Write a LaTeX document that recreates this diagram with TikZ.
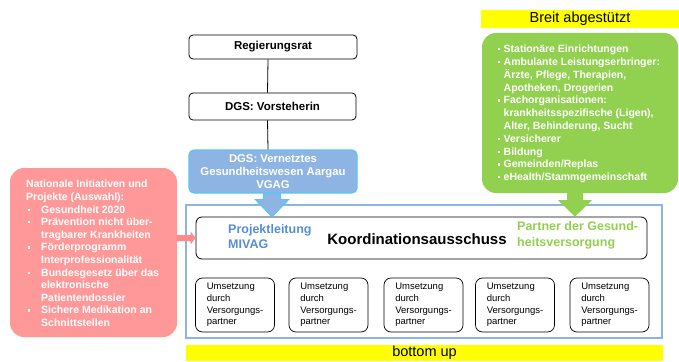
\documentclass[tikz,border=0pt]{standalone}
\usepackage{fontspec}
\setmainfont{Liberation Sans}
\usetikzlibrary{calc}
\definecolor{gfill}{HTML}{92D050}
\definecolor{rfill}{HTML}{FF9999}
\definecolor{rarrow}{HTML}{FF8A8A}
\definecolor{bfill}{HTML}{8EB4E3}
\definecolor{bline}{HTML}{5BC4F2}
\definecolor{btext}{HTML}{558ED5}
\definecolor{frameblue}{HTML}{8EB4E3}
\definecolor{ybar}{HTML}{FFFF00}
\newcommand\bul[1]{\makebox[#1][l]{\raisebox{0.22em}{\rule{2.2pt}{2.2pt}}}}
\tikzset{
  topbox/.style={draw=black, line width=0.8pt, rounded corners=4pt, fill=white, font=\fontsize{11.5}{13.5}\selectfont\bfseries, inner sep=0},
  smallbox/.style={draw=black, line width=0.7pt, rounded corners=7pt, minimum width=79pt, minimum height=54pt, inner sep=0, align=left, font=\fontsize{9.5}{11.7}\selectfont},
  ybox/.style={fill=ybar, inner sep=0, font=\fontsize{14.5}{16}\selectfont},
  conn/.style={line width=0.8pt, draw=black},
}
\begin{document}
\begin{tikzpicture}[x=1pt,y=-1pt]
\useasboundingbox (0,0) rectangle (679,361);
% top chain
\node[topbox, minimum width=168pt, minimum height=24pt] (reg) at (273,47) {Regierungsrat};
\node[topbox, minimum width=167pt, minimum height=27pt] (vor) at (272.5,106.5) {DGS: Vorsteherin};
\node[draw=bline, line width=1.2pt, fill=bfill, rounded corners=5pt, minimum width=168pt, minimum height=43pt, inner sep=0, align=center, text=white, font=\fontsize{11.3}{13.3}\selectfont\bfseries] (vgag) at (273,171.5) {DGS: Vernetztes\\Gesundheitswesen Aargau\\VGAG};
\draw[conn] ([xshift=-5pt]reg.south) -- ([xshift=-5pt]vor.north);
\draw[conn] ([xshift=-5pt]vor.south) -- ([xshift=-5pt]vgag.north);
% big frame
\node[draw=frameblue, line width=2pt, minimum width=476pt, minimum height=133pt, inner sep=0] (frame) at (424,271.5) {};
\node[draw=black, line width=0.8pt, rounded corners=6pt, minimum width=451pt, minimum height=42pt, inner sep=0] (kood) at (421.5,238) {};
\node[font=\fontsize{15}{17}\selectfont\bfseries, inner sep=0] (kt) at (417,239) {Koordinationsausschuss};
\node[anchor=west, align=left, inner sep=0, text=btext, font=\fontsize{12.5}{15}\selectfont\bfseries] (pl) at (228,236.5) {Projektleitung\\MIVAG};
\node[anchor=west, align=left, inner sep=0, text=gfill, font=\fontsize{12.5}{16}\selectfont\bfseries] (pg) at (517,235) {Partner der Gesund-\\heitsversorgung};
% small boxes
\node[smallbox] (u1) at (235,305) {Umsetzung\\durch\\Versorgungs-\\partner};
\node[smallbox] (u2) at (328.5,305) {Umsetzung\\durch\\Versorgungs-\\partner};
\node[smallbox] (u3) at (423.5,305) {Umsetzung\\durch\\Versorgungs-\\partner};
\node[smallbox] (u4) at (515,305) {Umsetzung\\durch\\Versorgungs-\\partner};
\node[smallbox] (u5) at (609.5,305) {Umsetzung\\durch\\Versorgungs-\\partner};
% yellow bars
\node[ybox, minimum width=477pt, minimum height=16pt] (bu) at (424.5,353) {bottom up};
\node[ybox, minimum width=198pt, minimum height=18pt] (ba) at (580,19) {Breit abgestützt};
% green box
\node[fill=gfill, rounded corners=14pt, minimum width=196pt, minimum height=160pt, inner sep=0] (green) at (580,113) {};
\node[anchor=west, align=left, inner sep=0, text=white, font=\fontsize{10.5}{12.8}\selectfont\bfseries] (gt) at (497.5,114) {%
\bul{6pt}Stationäre Einrichtungen\\
\bul{6pt}Ambulante Leistungserbringer:\\
\hspace*{6pt}Ärzte, Pflege, Therapien,\\
\hspace*{6pt}Apotheken, Drogerien\\
\bul{6pt}Fachorganisationen:\\
\hspace*{6pt}krankheitsspezifische (Ligen),\\
\hspace*{6pt}Alter, Behinderung, Sucht\\
\bul{6pt}Versicherer\\
\bul{6pt}Bildung\\
\bul{6pt}Gemeinden/Replas\\
\bul{6pt}eHealth/Stammgemeinschaft};
% red box
\node[fill=rfill, rounded corners=14pt, minimum width=167pt, minimum height=169pt, inner sep=0] (red) at (93.5,252.5) {};
\node[anchor=west, align=left, inner sep=0, text=white, font=\fontsize{10.5}{12.6}\selectfont\bfseries] (rt) at (26,253.5) {%
Nationale Initiativen und\\
Projekte (Auswahl):\\
\hspace*{2pt}\bul{13pt}Gesundheit 2020\\
\hspace*{2pt}\bul{13pt}Prävention nicht über-\\
\hspace*{15pt}tragbarer Krankheiten\\
\hspace*{2pt}\bul{13pt}Förderprogramm\\
\hspace*{15pt}Interprofessionalität\\
\hspace*{2pt}\bul{13pt}Bundesgesetz über das\\
\hspace*{15pt}elektronische\\
\hspace*{15pt}Patientendossier\\
\hspace*{2pt}\bul{13pt}Sichere Medikation an\\
\hspace*{15pt}Schnittstellen};
% block arrows
\draw[fill=bfill, draw=bline, line width=1.2pt, line join=miter]
  ([xshift=-7.5pt]vgag.south) -- ([xshift=7.5pt]vgag.south)
  -- ([xshift=7.5pt,yshift=-6pt]vgag.south) -- ([xshift=15.5pt,yshift=-6pt]vgag.south)
  -- ([xshift=-1pt]vgag.south |- kood.north)
  -- ([xshift=-17.5pt,yshift=-6pt]vgag.south) -- ([xshift=-9.5pt,yshift=-6pt]vgag.south)
  -- ([xshift=-9.5pt]vgag.south) -- cycle;
\fill[gfill]
  ([xshift=-13pt]green.south) -- ([xshift=3pt]green.south)
  -- ([xshift=3pt,yshift=-7pt]green.south) -- ([xshift=12pt,yshift=-7pt]green.south)
  -- ([xshift=-5pt]green.south |- kood.north)
  -- ([xshift=-22pt,yshift=-7pt]green.south) -- ([xshift=-13pt,yshift=-7pt]green.south) -- cycle;
\fill[rarrow]
  ([yshift=3pt]red.east |- kood.west) -- ([xshift=-5pt,yshift=3pt]kood.west)
  -- ([xshift=-5pt,yshift=6.5pt]kood.west) -- (kood.west)
  -- ([xshift=-5pt,yshift=-6.5pt]kood.west) -- ([xshift=-5pt,yshift=-3pt]kood.west)
  -- ([yshift=-3pt]red.east |- kood.west) -- cycle;
\end{tikzpicture}
\end{document}
